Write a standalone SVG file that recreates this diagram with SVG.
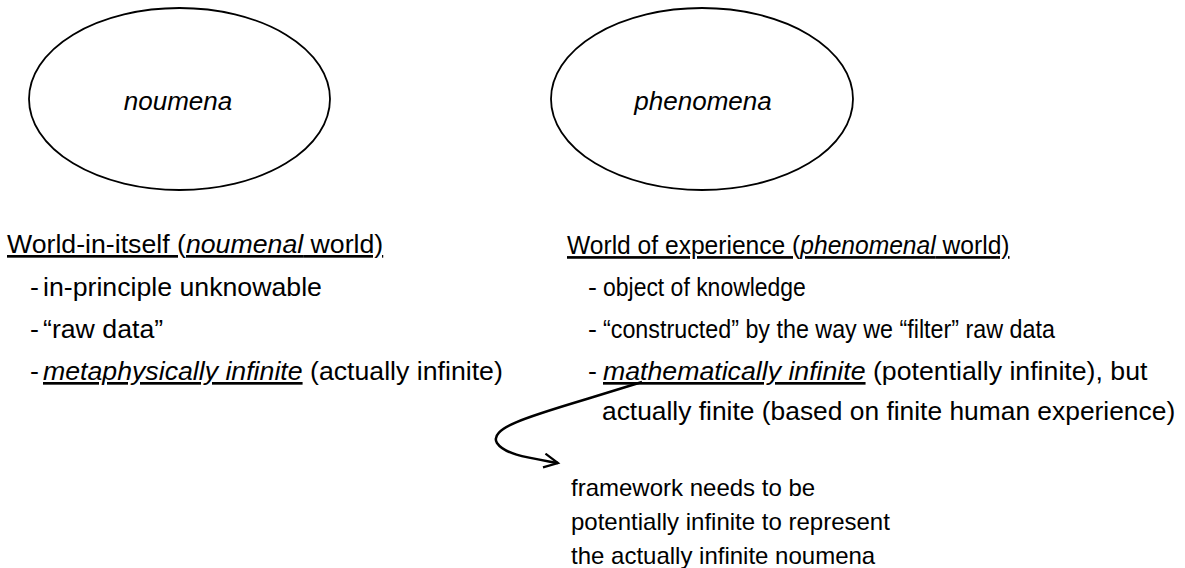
<svg xmlns="http://www.w3.org/2000/svg" width="1185" height="568" viewBox="0 0 1185 568">
<style>
.t{font-family:"Liberation Sans",Arial,sans-serif;font-size:26.7px;fill:#000}
.e{font-family:"Liberation Sans",Arial,sans-serif;font-size:26px;fill:#000}
.s{font-family:"Liberation Sans",Arial,sans-serif;font-size:24px;fill:#000}
.el{fill:#fff;stroke:#000;stroke-width:1.8}
.u{text-decoration:underline}
.i{font-style:italic}
</style>
<defs>
<marker id="arr" markerWidth="20" markerHeight="20" refX="15" refY="8" orient="auto" markerUnits="userSpaceOnUse">
<path d="M1 1 L15 8 L1 15" fill="none" stroke="#000" stroke-width="2.2"/>
</marker>
</defs>
<g id="noumena">
<ellipse class="el" cx="179.5" cy="99" rx="150.5" ry="91"/>
<text class="e i" x="178" y="110" text-anchor="middle">noumena</text>
</g>
<g id="phenomena">
<ellipse class="el" cx="702" cy="99" rx="151" ry="91"/>
<text class="e i" x="703" y="110" text-anchor="middle">phenomena</text>
</g>
<g id="left-text">
<text class="t u" x="7" y="253">World-in-itself (<tspan class="i">noumenal</tspan> world)</text>
<text class="t" x="30" y="296">-</text><text class="t" x="43" y="296">in-principle unknowable</text>
<text class="t" x="30" y="338">-</text><text class="t" x="43" y="338">“raw data”</text>
<text class="t" x="30" y="380">-</text><text class="t" x="43" y="380"><tspan class="i u">metaphysically infinite</tspan> (actually infinite)</text>
</g>
<g id="right-text">
<text class="t u" transform="translate(567,254) scale(0.922,1)">World of experience (<tspan class="i">phenomenal</tspan> world)</text>
<text class="t" x="588" y="296">-</text><text class="t" transform="translate(603,296) scale(0.86,1)">object of knowledge</text>
<text class="t" x="588" y="338">-</text><text class="t" transform="translate(603,338) scale(0.873,1)">“constructed” by the way we “filter” raw data</text>
<text class="t" x="588" y="380">-</text><text class="t" x="603" y="380"><tspan class="i u">mathematically infinite</tspan> (potentially infinite), but</text>
<text class="t" transform="translate(602,420) scale(0.988,1)">actually finite (based on finite human experience)</text>
</g>
<g id="connectors">
<path d="M 642 382 L 590 398 C 530 416, 488 428, 497 443 C 505 455, 530 458, 558 463" fill="none" stroke="#000" stroke-width="2.5" marker-end="url(#arr)"/>
</g>
<g id="note">
<text class="s" x="571" y="496">framework needs to be</text>
<text class="s" x="571" y="530">potentially infinite to represent</text>
<text class="s" x="571" y="564">the actually infinite noumena</text>
</g>
</svg>
